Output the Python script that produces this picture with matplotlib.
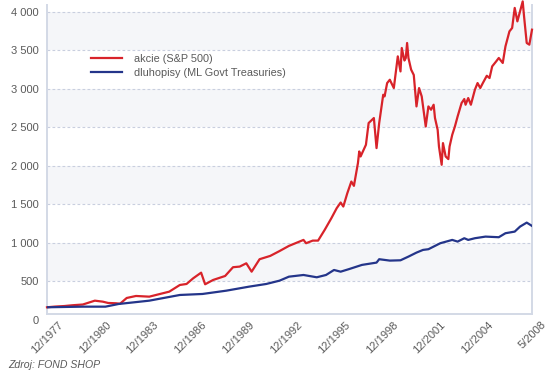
import matplotlib
matplotlib.use("Agg")
import matplotlib.pyplot as plt
import pandas as pd

plt.rcParams["font.family"] = ["Liberation Sans", "DejaVu Sans"]

# akcie (S&P 500)
stock_dates = [
    "1977-12", "1978-06", "1979-01", "1979-07", "1980-03", "1980-12", "1981-06",
    "1981-10", "1982-04", "1982-07", "1982-12", "1983-07", "1984-05", "1985-01",
    "1985-08", "1986-04", "1986-09", "1987-02", "1987-08", "1987-11", "1988-05",
    "1989-02", "1989-08", "1990-01", "1990-06", "1990-10", "1991-04", "1991-12",
    "1992-07", "1993-02", "1994-01", "1994-03", "1994-08", "1994-12", "1995-05",
    "1995-10", "1996-02", "1996-05", "1996-07", "1996-10", "1997-01", "1997-03",
    "1997-06", "1997-07", "1997-08", "1997-12", "1998-02", "1998-06", "1998-08",
    "1998-10", "1999-01", "1999-02", "1999-04", "1999-06", "1999-09", "1999-12",
    "2000-02", "2000-03", "2000-05", "2000-06", "2000-07", "2000-08", "2000-10",
    "2000-12", "2001-02", "2001-04", "2001-06", "2001-09", "2001-11", "2002-01",
    "2002-03", "2002-04", "2002-06", "2002-07", "2002-09", "2002-10", "2002-12",
    "2003-02", "2003-03", "2003-05", "2003-07", "2003-09", "2003-12", "2004-02",
    "2004-03", "2004-05", "2004-07", "2004-10", "2004-12", "2005-02", "2005-04",
    "2005-07", "2005-09", "2005-11", "2006-02", "2006-04", "2006-07", "2006-09",
    "2006-12", "2007-02", "2007-04", "2007-06", "2007-08", "2007-10", "2007-11",
    "2008-01", "2008-03", "2008-05",
]
stock_values = [
    159, 168, 175, 185, 195, 245, 232,
    215, 211, 205, 280, 306, 297, 332,
    362, 449, 462, 536, 609, 458, 514,
    566, 680, 688, 731, 622, 784, 827,
    890, 957, 1035, 992, 1026, 1026, 1165,
    1317, 1448, 1521, 1469, 1643, 1794, 1738,
    2034, 2185, 2120, 2272, 2555, 2620, 2229,
    2555, 2923, 2901, 3075, 3118, 3010, 3422,
    3226, 3531, 3368, 3401, 3596, 3401, 3250,
    3180, 2771, 3010, 2901, 2510, 2771, 2728,
    2793, 2620, 2467, 2250, 2012, 2294, 2120,
    2086, 2250, 2402, 2510, 2640, 2815, 2867,
    2793, 2880, 2793, 2988, 3075, 3010, 3075,
    3170, 3140, 3292, 3357, 3401, 3336, 3552,
    3747, 3791, 4052, 3877, 4007, 4137, 3942,
    3596, 3574, 3769,
]

# dluhopisy (ML Govt Treasuries)
bond_dates = [
    "1977-12", "1979-01", "1980-03", "1981-08", "1982-06", "1984-05", "1986-04",
    "1987-09", "1989-03", "1990-08", "1991-09", "1992-07", "1993-02", "1994-01",
    "1994-11", "1995-06", "1995-12", "1996-05", "1996-11", "1997-09", "1998-08",
    "1998-10", "1999-06", "2000-02", "2000-08", "2001-02", "2001-07", "2001-11",
    "2002-08", "2003-05", "2003-09", "2004-02", "2004-05", "2004-10", "2005-06",
    "2006-04", "2006-09", "2007-04", "2007-08", "2008-01", "2008-05",
]
bond_values = [
    159, 163, 167, 167, 202, 245, 319,
    332, 375, 427, 462, 505, 557, 579,
    549, 579, 644, 622, 654, 710, 740,
    784, 766, 770, 818, 870, 905, 914,
    992, 1035, 1013, 1057, 1035, 1057, 1078,
    1070, 1122, 1143, 1208, 1260, 1217,
]

tick_dates = ["1977-12", "1980-12", "1983-12", "1986-12", "1989-12", "1992-12",
              "1995-12", "1998-12", "2001-12", "2004-12", "2008-05"]
tick_labels = ["12/1977", "12/1980", "12/1983", "12/1986", "12/1989", "12/1992",
               "12/1995", "12/1998", "12/2001", "12/2004", "5/2008"]
y_ticks = [0, 500, 1000, 1500, 2000, 2500, 3000, 3500, 4000]

RED = "#d8232a"
BLUE = "#24358a"
AXIS = "#d3d9e6"
TEXT = "#5a5a5a"

fig = plt.figure(figsize=(5.5, 3.79), dpi=100)
ax = fig.add_axes([47 / 550, 59.5 / 379, 485 / 550, 314.5 / 379])

y_top = 4090
ax.set_ylim(0, y_top)
ax.set_xlim(pd.Timestamp("1977-12"), pd.Timestamp("2008-05"))

# alternating bands + dashed gridlines
for lo in y_ticks[1::2]:
    ax.axhspan(lo, lo + 500, color="#f5f6f9", lw=0, zorder=0)
for y in y_ticks[1:]:
    ax.axhline(y, color="#c9cfdf", lw=0.8, ls=(0, (2.5, 2)), zorder=1)

ax.plot(pd.to_datetime(stock_dates), stock_values, color=RED, lw=1.6,
        label="akcie (S&P 500)", zorder=3, clip_on=False)
ax.plot(pd.to_datetime(bond_dates), bond_values, color=BLUE, lw=1.6,
        label="dluhopisy (ML Govt Treasuries)", zorder=3)

# axes frame
base = 70
ax.spines["top"].set_visible(False)
for side in ["left", "right", "bottom"]:
    ax.spines[side].set_color(AXIS)
    ax.spines[side].set_linewidth(1.4)
ax.spines["bottom"].set_position(("data", base))
ax.spines["left"].set_bounds(base, y_top)
ax.spines["right"].set_bounds(base, y_top)

ax.set_yticks(y_ticks)
ax.set_yticklabels([f"{v:,}".replace(",", " ") for v in y_ticks])
ax.tick_params(axis="y", length=0, pad=6, labelsize=8, labelcolor=TEXT)

ax.set_xticks(pd.to_datetime(tick_dates))
ax.set_xticklabels(tick_labels, rotation=45, ha="center")
ax.tick_params(axis="x", length=0, pad=4, labelsize=8, labelcolor=TEXT)

leg = ax.legend(loc="upper left", bbox_to_anchor=(0.0907, 0.845), frameon=False,
                fontsize=7.8, handlelength=2.85, handletextpad=1.1,
                labelspacing=0.35, borderpad=0, borderaxespad=0)
for t in leg.get_texts():
    t.set_color(TEXT)

fig.text(8 / 550, 1 - 365 / 379, "Zdroj: FOND SHOP", fontsize=7.6, style="italic",
         color=TEXT, va="center", ha="left")

fig.savefig("out.png", dpi=100)
